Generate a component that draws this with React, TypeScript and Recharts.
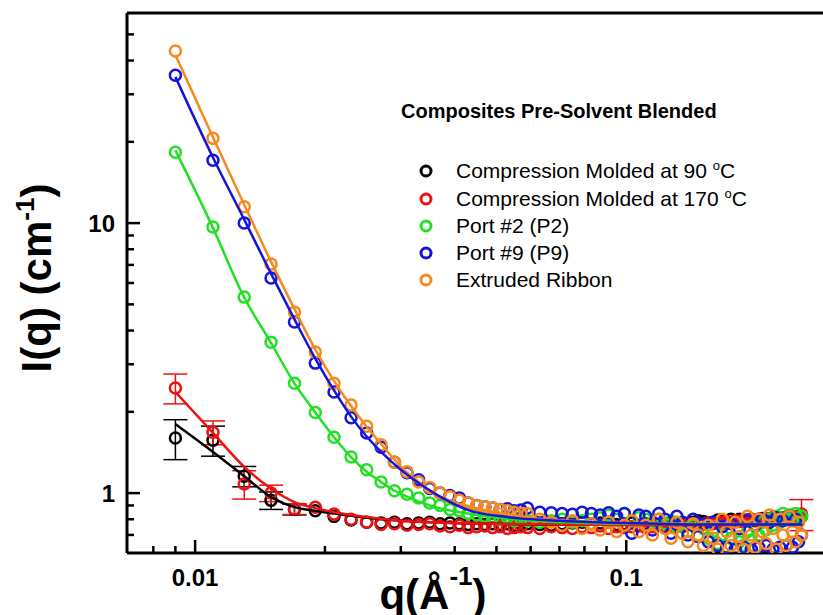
import { ComposedChart, ErrorBar, ReferenceLine, Scatter, XAxis, YAxis } from "recharts";

const FONT = '"Liberation Sans", Arial, sans-serif';

// q (1/Å) at which every sample was measured
const qValues = [
  0.009, 0.011, 0.013, 0.015, 0.017, 0.019, 0.021, 0.023, 0.025, 0.027,
  0.029, 0.031, 0.033, 0.035, 0.037, 0.039, 0.041, 0.043, 0.045, 0.047,
  0.049, 0.051, 0.053, 0.055, 0.057, 0.059, 0.063, 0.067, 0.071, 0.075,
  0.079, 0.083, 0.087, 0.091, 0.095, 0.099, 0.103, 0.107, 0.111, 0.115,
  0.119, 0.123, 0.127, 0.131, 0.135, 0.139, 0.143, 0.147, 0.151, 0.155,
  0.159, 0.163, 0.167, 0.171, 0.175, 0.179, 0.183, 0.187, 0.191, 0.195,
  0.199, 0.203, 0.207, 0.211, 0.215, 0.219, 0.223, 0.227, 0.231, 0.235,
  0.239, 0.243, 0.247, 0.251, 0.255,
];

const black90 = [
  1.6, 1.57, 1.155, 0.94, 0.87, 0.86, 0.82, 0.795, 0.78, 0.775,
  0.78, 0.77, 0.775, 0.78, 0.77, 0.775, 0.77, 0.765, 0.77, 0.765,
  0.77, 0.765, 0.77, 0.76, 0.765, 0.77, 0.765, 0.76, 0.77, 0.775,
  0.78, 0.77, 0.775, 0.78, 0.765, 0.77, 0.775, 0.76, 0.77, 0.775,
  0.765, 0.77, 0.78, 0.775, 0.77, 0.765, 0.78, 0.79, 0.785, 0.77,
  0.78, 0.795, 0.79, 0.78, 0.8, 0.79, 0.8, 0.785, 0.795, 0.8,
  0.79, 0.8, 0.805, 0.795, 0.8, 0.81, 0.8, 0.79, 0.805, 0.81,
  0.8, 0.815, 0.805, 0.81, 0.82,
];
const black90Err: Record<number, number> = { 0: 0.27, 1: 0.2, 2: 0.1, 3: 0.07, 4: 0.04 };

const red170 = [
  2.45, 1.68, 1.08, 1.0, 0.873, 0.887, 0.836, 0.8, 0.78, 0.765,
  0.77, 0.76, 0.765, 0.77, 0.755, 0.75, 0.76, 0.745, 0.75, 0.755,
  0.745, 0.75, 0.74, 0.745, 0.75, 0.745, 0.74, 0.75, 0.745, 0.74,
  0.75, 0.745, 0.755, 0.74, 0.75, 0.745, 0.75, 0.755, 0.745, 0.75,
  0.76, 0.75, 0.755, 0.76, 0.75, 0.765, 0.76, 0.77, 0.765, 0.775,
  0.77, 0.78, 0.775, 0.785, 0.78, 0.79, 0.785, 0.795, 0.79, 0.8,
  0.795, 0.8, 0.79, 0.805, 0.8, 0.81, 0.805, 0.8, 0.81, 0.815,
  0.81, 0.82, 0.815, 0.82, 0.836,
];
const red170Err: Record<number, number> = { 0: 0.31, 1: 0.17, 2: 0.13, 3: 0.07, 4: 0.04, 74: 0.11 };

const port2 = [
  18.3, 9.67, 5.32, 3.62, 2.55, 1.99, 1.61, 1.36, 1.22, 1.1,
  1.02, 0.99, 0.96, 0.92, 0.9, 0.87, 0.86, 0.84, 0.83, 0.82,
  0.81, 0.8, 0.81, 0.79, 0.8, 0.79, 0.78, 0.79, 0.8, 0.78,
  0.79, 0.8, 0.81, 0.83, 0.8, 0.84, 0.79, 0.81, 0.8, 0.78,
  0.8, 0.77, 0.79, 0.75, 0.78, 0.72, 0.76, 0.7, 0.74, 0.68,
  0.72, 0.65, 0.7, 0.63, 0.68, 0.62, 0.66, 0.64, 0.72, 0.67,
  0.75, 0.7, 0.78, 0.73, 0.8, 0.76, 0.82, 0.78, 0.84, 0.8,
  0.83, 0.79, 0.84, 0.8, 0.82,
];

const port9 = [
  35.3, 17.1, 10.0, 6.26, 4.3, 3.03, 2.37, 1.9, 1.67, 1.48,
  1.3, 1.19, 1.12, 1.04, 1.0, 0.98, 0.96, 0.92, 0.9, 0.89,
  0.88, 0.87, 0.875, 0.86, 0.865, 0.88, 0.85, 0.845, 0.84, 0.835,
  0.85, 0.84, 0.83, 0.845, 0.82, 0.84, 0.71, 0.83, 0.82, 0.73,
  0.84, 0.8, 0.71, 0.82, 0.78, 0.7, 0.8, 0.69, 0.77, 0.66,
  0.78, 0.64, 0.75, 0.63, 0.77, 0.62, 0.74, 0.63, 0.79, 0.62,
  0.76, 0.63, 0.8, 0.64, 0.78, 0.62, 0.81, 0.63, 0.79, 0.64,
  0.82, 0.63, 0.8, 0.66, 0.7,
];

const ribbon = [
  43.4, 20.6, 11.5, 7.05, 4.68, 3.33, 2.55, 2.12, 1.77, 1.51,
  1.3, 1.2, 1.1, 1.05, 1.0, 0.97, 0.94, 0.92, 0.9, 0.89,
  0.88, 0.87, 0.86, 0.85, 0.84, 0.84, 0.8, 0.78, 0.76, 0.79,
  0.74, 0.77, 0.73, 0.78, 0.72, 0.76, 0.79, 0.72, 0.76, 0.7,
  0.8, 0.74, 0.68, 0.78, 0.71, 0.66, 0.77, 0.7, 0.64, 0.76,
  0.68, 0.62, 0.8, 0.72, 0.64, 0.78, 0.69, 0.62, 0.82, 0.7,
  0.63, 0.8, 0.72, 0.65, 0.83, 0.74, 0.62, 0.8, 0.7, 0.64,
  0.82, 0.72, 0.66, 0.78, 0.7,
];

// model fits
const black90FitQ = [0.009, 0.011, 0.013, 0.015, 0.017, 0.019, 0.021, 0.025, 0.03, 0.04, 0.05, 0.07, 0.1, 0.15, 0.2, 0.256];
const black90Fit = [1.8, 1.42, 1.155, 0.966, 0.887, 0.86, 0.84, 0.81, 0.79, 0.775, 0.77, 0.765, 0.765, 0.765, 0.765, 0.765];

const red170FitQ = [0.009, 0.011, 0.013, 0.015, 0.017, 0.019, 0.021, 0.025, 0.03, 0.04, 0.05, 0.07, 0.1, 0.2, 0.256];
const red170Fit = [2.37, 1.67, 1.25, 1.04, 0.926, 0.88, 0.85, 0.815, 0.79, 0.775, 0.77, 0.765, 0.762, 0.762, 0.762];

const port2FitQ = [0.009, 0.011, 0.013, 0.015, 0.017, 0.019, 0.021, 0.023, 0.025, 0.027, 0.029, 0.031, 0.035, 0.045, 0.06, 0.08, 0.1, 0.256];
const port2Fit = [18.6, 9.6, 5.3, 3.6, 2.55, 1.99, 1.61, 1.36, 1.2, 1.1, 1.02, 0.97, 0.9, 0.83, 0.79, 0.775, 0.77, 0.765];

const port9FitQ = [0.009, 0.011, 0.013, 0.015, 0.017, 0.019, 0.021, 0.023, 0.025, 0.027, 0.03, 0.033, 0.037, 0.043, 0.053, 0.07, 0.1, 0.15, 0.256];
const port9Fit = [34.8, 17.5, 10.3, 6.5, 4.4, 3.15, 2.4, 1.92, 1.62, 1.42, 1.22, 1.09, 0.97, 0.865, 0.815, 0.79, 0.775, 0.765, 0.765];

const ribbonFitQ = [0.009, 0.011, 0.013, 0.015, 0.017, 0.019, 0.021, 0.023, 0.025, 0.027, 0.029, 0.031, 0.033, 0.035, 0.037, 0.045, 0.05, 0.06, 0.08, 0.1, 0.15, 0.256];
const ribbonFit = [42, 20.8, 11.7, 7.2, 4.8, 3.4, 2.6, 2.1, 1.76, 1.52, 1.33, 1.19, 1.1, 1.02, 0.97, 0.88, 0.85, 0.81, 0.785, 0.775, 0.77, 0.768];

const X_DOMAIN = [0.00695, 0.286];
const X_MAJOR = [0.01, 0.1];
const X_MINOR = [0.008, 0.009, 0.02, 0.03, 0.04, 0.05, 0.06, 0.07, 0.08, 0.09];
const Y_DOMAIN = [0.6, 60];
const Y_MAJOR = [1, 10];
const Y_MINOR = [0.7, 0.8, 0.9, 2, 3, 4, 5, 6, 7, 8, 9, 20, 30, 40, 50];

const SERIES = [
  { name: "Compression Molded at 90 °C", color: "#000000", values: black90, err: black90Err, fitQ: black90FitQ, fit: black90Fit },
  { name: "Compression Molded at 170 °C", color: "#ee1111", values: red170, err: red170Err, fitQ: red170FitQ, fit: red170Fit },
  { name: "Port #2 (P2)", color: "#22e022", values: port2, err: {}, fitQ: port2FitQ, fit: port2Fit },
  { name: "Port #9 (P9)", color: "#1414dd", values: port9, err: {}, fitQ: port9FitQ, fit: port9Fit },
  { name: "Extruded Ribbon", color: "#f7891d", values: ribbon, err: {}, fitQ: ribbonFitQ, fit: ribbonFit },
];

const FIT_ORDER = [4, 0, 1, 2, 3];
const AXIS_LINE = { stroke: "#000", strokeWidth: 3 };

// plot frame: margin.left + YAxis width, margin.top, chart width - left, height - margins - XAxis height
const FRAME = { left: 127, top: 13, width: 696, height: 540 };
const logPos = (v: number, [lo, hi]: number[]) => Math.log(v / lo) / Math.log(hi / lo);
const frameX = (q: number) => FRAME.left + FRAME.width * logPos(q, X_DOMAIN);
const frameY = (v: number) => FRAME.top + FRAME.height * (1 - logPos(v, Y_DOMAIN));

function ring(color: string) {
  return (props: any) => (
    <circle cx={props.cx} cy={props.cy} r={5.5} fill="none" stroke={color} strokeWidth={2.5} />
  );
}

function XLabel(props: any) {
  return (
    <text x={props.x} y={props.y + 33} textAnchor="middle" fontSize={24} fontWeight="bold" fontFamily={FONT} fill="#000">
      {String(props.payload.value)}
    </text>
  );
}

function YLabel(props: any) {
  return (
    <text x={props.x - 4} y={props.y + 8.5} textAnchor="end" fontSize={24} fontWeight="bold" fontFamily={FONT} fill="#000">
      {String(props.payload.value)}
    </text>
  );
}

function withDegree(label: string) {
  const parts = label.split("°");
  if (parts.length === 1) return label;
  return (
    <>
      {parts[0]}
      <sup style={{ fontSize: 13, lineHeight: 0 }}>o</sup>
      {parts[1]}
    </>
  );
}

const ROW_HEIGHTS = [29, 27, 27, 27, 26];

const LegendBox = () => (
  <div style={{ position: "absolute", left: 401, top: 99, fontFamily: FONT, color: "#000" }}>
    <div style={{ fontWeight: "bold", fontSize: 20, lineHeight: "24px", whiteSpace: "nowrap" }}>
      Composites Pre-Solvent Blended
    </div>
    <div style={{ marginTop: 33.5 }}>
      {SERIES.map((s, i) => (
        <div key={s.name} style={{ display: "flex", alignItems: "center", height: ROW_HEIGHTS[i], whiteSpace: "nowrap" }}>
          <svg width={16} height={16} style={{ marginLeft: 17, marginRight: 22, flex: "none" }}>
            <circle cx={8} cy={8} r={5} fill="none" stroke={s.color} strokeWidth={3} />
          </svg>
          <span style={{ fontSize: 21 }}>{withDegree(s.name)}</span>
        </div>
      ))}
    </div>
  </div>
);

// inward tick marks and the axis titles, laid over the chart frame
const FrameOverlay = () => (
  <svg width={823} height={615} style={{ position: "absolute", left: 0, top: 0, pointerEvents: "none" }}>
    {[...X_MAJOR.map((q) => [q, 13]), ...X_MINOR.map((q) => [q, 7])].map(([q, len]) => (
      <line key={"x" + q} x1={frameX(q)} x2={frameX(q)} y1={FRAME.top + FRAME.height} y2={FRAME.top + FRAME.height - len} stroke="#000" strokeWidth={2.5} />
    ))}
    {[...Y_MAJOR.map((v) => [v, 13]), ...Y_MINOR.map((v) => [v, 7])].map(([v, len]) => (
      <line key={"y" + v} x1={FRAME.left} x2={FRAME.left + len} y1={frameY(v)} y2={frameY(v)} stroke="#000" strokeWidth={2.5} />
    ))}
    <text x={433} y={609} textAnchor="middle" fontSize={42} fontWeight="bold" fontFamily={FONT} fill="#000">
      q(Å<tspan dy={-24} fontSize={26}>-1</tspan>
      <tspan dy={24}>)</tspan>
    </text>
    <text transform="translate(51,278) rotate(-90)" textAnchor="middle" fontSize={42} fontWeight="bold" fontFamily={FONT} fill="#000">
      I(q) (cm<tspan dy={-17} fontSize={26}>-1</tspan>
      <tspan dy={17}>)</tspan>
    </text>
  </svg>
);

export default function App() {
  return (
    <div style={{ position: "absolute", left: 0, top: 0, width: 823, height: 615, overflow: "hidden", background: "#fff" }}>
      <ComposedChart width={823} height={615} margin={{ top: 13, right: 0, bottom: 22, left: 27 }}>
        <XAxis
          dataKey="q"
          type="number"
          scale="log"
          domain={X_DOMAIN}
          allowDataOverflow
          ticks={X_MAJOR}
          interval={0}
          height={40}
          tick={<XLabel />}
          tickSize={0}
          tickMargin={0}
          tickLine={false}
          axisLine={AXIS_LINE}
        />
        <YAxis
          dataKey="I"
          type="number"
          scale="log"
          domain={Y_DOMAIN}
          allowDataOverflow
          ticks={Y_MAJOR}
          interval={0}
          width={100}
          tick={<YLabel />}
          tickSize={0}
          tickMargin={8}
          tickLine={false}
          axisLine={AXIS_LINE}
        />
        <ReferenceLine y={60} stroke="#000" strokeWidth={3} />
        {SERIES.map((s) => (
          <Scatter
            key={s.name}
            data={qValues.map((q, i) => ({ q, I: s.values[i], err: (s.err as Record<number, number>)[i] ?? 0 }))}
            shape={ring(s.color)}
            isAnimationActive={false}
          >
            <ErrorBar dataKey="err" direction="y" width={12} stroke={s.color} strokeWidth={1.5} isAnimationActive={false} />
          </Scatter>
        ))}
        {FIT_ORDER.map((idx) => {
          const s = SERIES[idx];
          return (
            <Scatter
              key={s.name + "-fit"}
              data={s.fitQ.map((q, i) => ({ q, I: s.fit[i] }))}
              line={{ stroke: s.color, strokeWidth: 2.5 }}
              lineJointType="monotoneX"
              shape={() => <g />}
              isAnimationActive={false}
            />
          );
        })}
      </ComposedChart>
      <FrameOverlay />
      <LegendBox />
    </div>
  );
}
